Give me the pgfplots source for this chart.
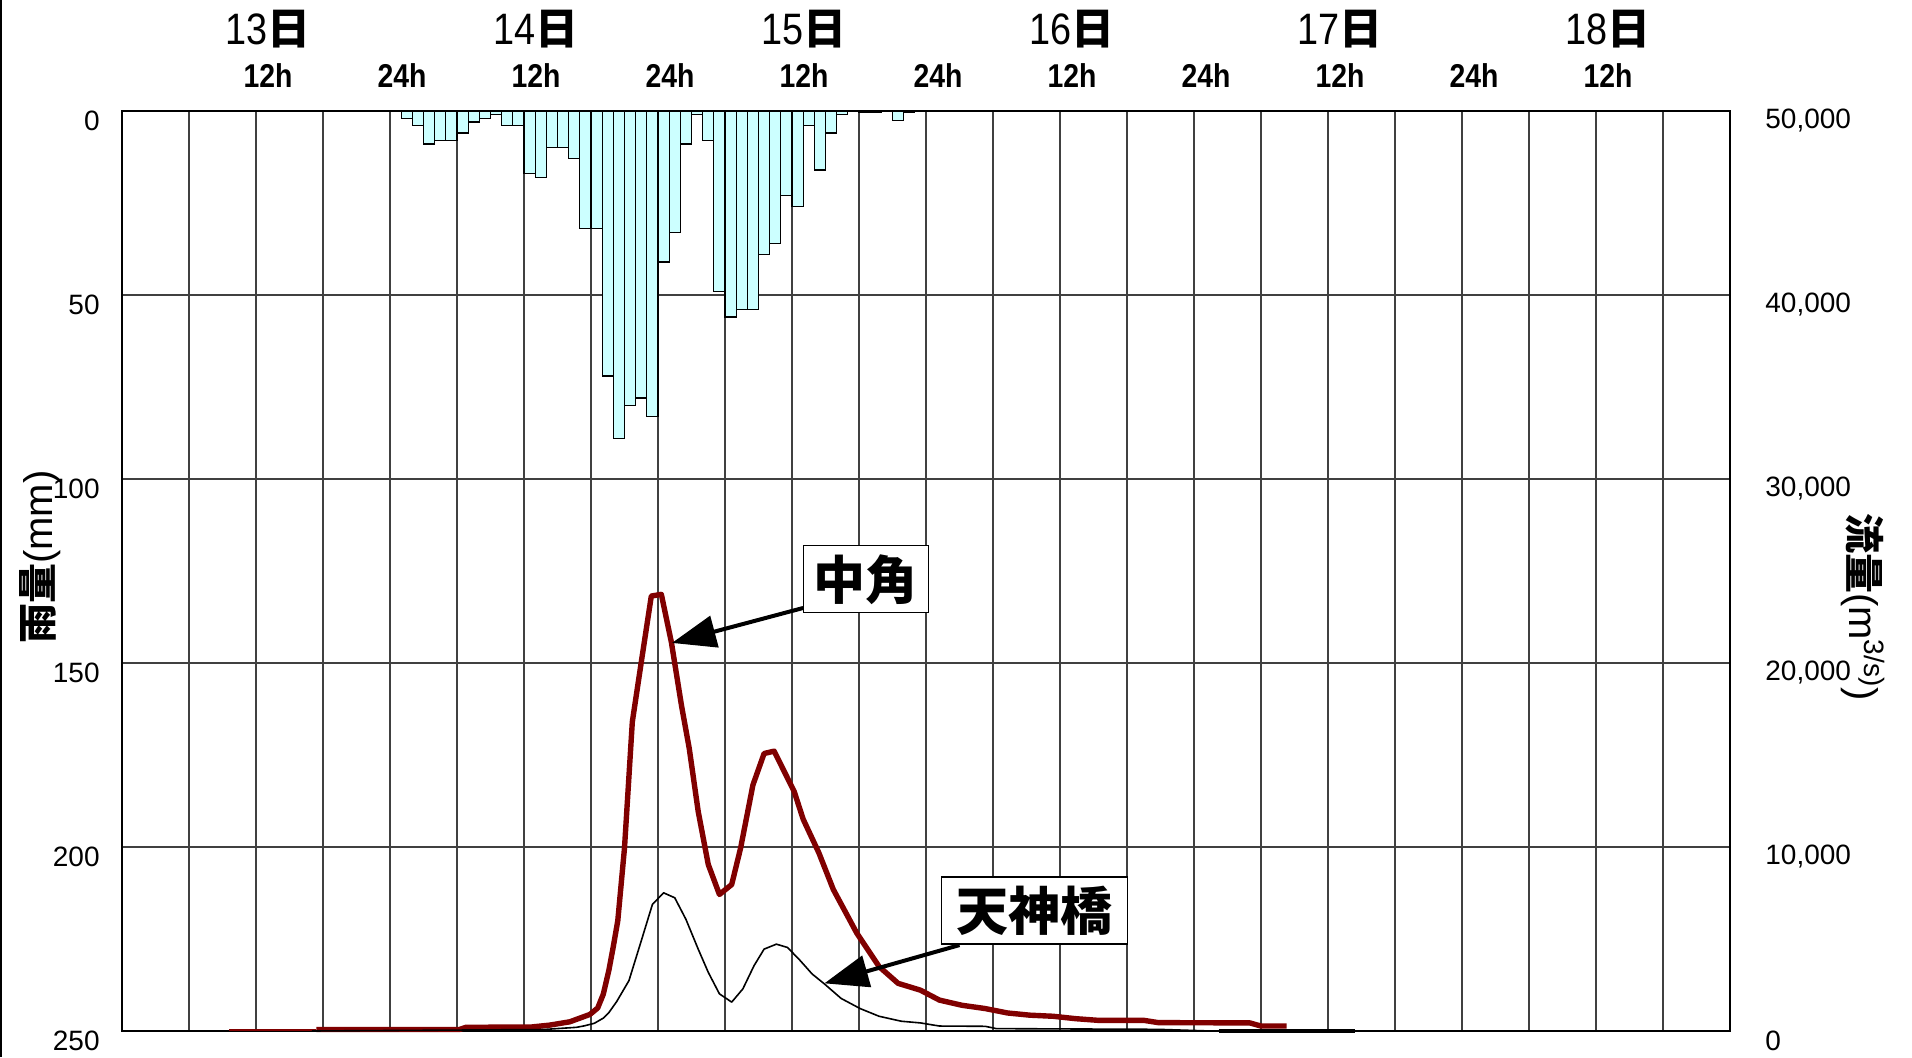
\documentclass[border=0pt]{standalone}
\usepackage{pgfplots}
\pgfplotsset{compat=1.18}
\usetikzlibrary{arrows.meta}
\usepackage{fontspec}
\setmainfont{Liberation Sans}
\newfontfamily\narrow{Liberation Sans}[FakeStretch=0.86]
\newfontfamily\cjk{Noto Sans CJK JP}
\definecolor{rainfill}{HTML}{CCFFFF}
\definecolor{darkred}{HTML}{800000}

\newcommand{\dayl}[1]{{\narrow\fontsize{22}{24}\selectfont #1}{\cjk\bfseries\fontsize{21.5}{24}\selectfont 日}}

\begin{document}
\begin{tikzpicture}
\useasboundingbox (0,0) rectangle (956pt,528.5pt);
\draw[line width=1pt] (0.5pt,0) -- (0.5pt,528.5pt);

% hourly rainfall (mm), hanging from the top
\begin{axis}[
  at={(61pt,13pt)}, anchor=south west,
  scale only axis, width=804pt, height=460pt,
  xmin=0, xmax=144, ymin=0, ymax=250, y dir=reverse,
  xtick={12,24,...,132},
  xticklabels={12h,24h,12h,24h,12h,24h,12h,24h,12h,24h,12h},
  minor xtick={6,18,...,138},
  xticklabel pos=upper,
  ytick={0,50,...,250},
  major tick length=0pt, minor tick length=0pt,
  grid=both,
  major grid style={black!75, line width=0.6pt},
  minor grid style={black!75, line width=0.6pt},
  axis line style={line width=1.2pt},
  tick label style={font=\fontsize{14}{16}\selectfont, inner sep=0pt},
  xticklabel style={font=\narrow\bfseries\fontsize{16.5}{18}\selectfont, anchor=base, yshift=12pt, xshift=6pt},
  yticklabel style={anchor=east, xshift=-11pt, yshift=-5pt},
  /pgf/number format/assume math mode=true,
  ybar, bar width=1, bar shift=0pt,
]
\addplot[draw=black, line width=0.65pt, fill=rainfill] table {
h r
25.5 2
26.5 4
27.5 9
28.5 8
29.5 8
30.5 6
31.5 3
32.5 2
33.5 1
34.5 4
35.5 4
36.5 17
37.5 18
38.5 10
39.5 10
40.5 13
41.5 32
42.5 32
43.5 72
44.5 89
45.5 80
46.5 78
47.5 83
48.5 41
49.5 33
50.5 9
51.5 1
52.5 8
53.5 49
54.5 56
55.5 54
56.5 54
57.5 39
58.5 36
59.5 23
60.5 26
61.5 4
62.5 16
63.5 6
64.5 1
66.5 0.5
67.5 0.5
69.5 2.6
70.5 0.5
};
\end{axis}

% discharge (m3/s)
\begin{axis}[
  at={(61pt,13pt)}, anchor=south west,
  scale only axis, width=804pt, height=460pt,
  xmin=0, xmax=144, ymin=0, ymax=50000,
  axis x line=none, axis y line*=right,
  axis line style={draw=none},
  ytick={0,10000,...,50000}, scaled y ticks=false,
  major tick length=0pt,
  yticklabel style={font=\fontsize{14}{16}\selectfont, inner sep=0pt, anchor=west, xshift=17.5pt, yshift=-5pt},
  /pgf/number format/assume math mode=true,
  /pgf/number format/1000 sep={,},
  clip=false,
]
% 中角
\addplot[darkred, line width=0.8pt] coordinates {(9.6,60) (17.4,60)};
\addplot[darkred, line width=2.7pt, line join=round] table {
t q
17.4 80
30.2 80
30.8 200
36.7 220
38.3 320
40.1 500
41.9 900
42.6 1250
43.1 2000
43.6 3300
44.0 4600
44.4 6000
45.0 9950
45.7 16800
46.5 20040
47.4 23640
48.3 23730
49.2 21120
50.1 17700
50.8 15350
51.6 11930
52.5 9050
53.5 7420
54.6 7960
55.4 9950
56.5 13370
57.5 15080
58.4 15210
60.2 13010
61.0 11510
62.4 9690
63.7 7690
65.8 5320
67.8 3500
69.5 2590
71.5 2220
73.2 1680
75.2 1400
77.3 1220
79.3 980
81.3 860
83.4 800
85.4 670
87.4 580
91.5 580
92.8 455
101.0 440
102.0 270
104.3 270
};
% 天神橋
\addplot[black, line width=0.8pt, line join=round] table {
t q
17.0 0
37.7 80
40.7 200
41.4 280
42.3 420
43.1 700
43.6 1000
44.3 1600
45.4 2740
46.5 4900
47.5 6880
48.5 7510
49.5 7240
50.5 6070
51.6 4450
52.5 3190
53.5 2020
54.6 1570
55.6 2290
56.6 3550
57.5 4450
58.6 4720
59.6 4540
60.7 3850
61.8 3100
62.9 2560
64.4 1770
66.1 1220
67.8 800
69.8 530
71.5 440
73.2 270
77.3 255
78.3 130
92.8 90
97.5 0
128.5 0
};
\addplot[black, line width=2pt] coordinates {(98.2,0) (110.4,0)};

% day labels
\node[anchor=base, xshift=6pt, yshift=33pt] at (axis cs:12,50000) {\dayl{13}};
\node[anchor=base, xshift=6pt, yshift=33pt] at (axis cs:36,50000) {\dayl{14}};
\node[anchor=base, xshift=6pt, yshift=33pt] at (axis cs:60,50000) {\dayl{15}};
\node[anchor=base, xshift=6pt, yshift=33pt] at (axis cs:84,50000) {\dayl{16}};
\node[anchor=base, xshift=6pt, yshift=33pt] at (axis cs:108,50000) {\dayl{17}};
\node[anchor=base, xshift=6pt, yshift=33pt] at (axis cs:132,50000) {\dayl{18}};

% callouts
\draw[line width=2pt, -{Triangle[length=22pt,width=16pt]}] (axis cs:61.0,22990) -- (axis cs:49.25,21090);
\draw[line width=2pt, -{Triangle[length=22pt,width=16pt]}] (axis cs:75.0,4670) -- (axis cs:62.9,2590);
\node[draw=black, line width=0.7pt, fill=white, inner sep=0pt, minimum width=62.5pt, minimum height=33.5pt,
  font=\cjk\bfseries\fontsize{26}{28}\selectfont] at (axis cs:66.6,24550) {中角};
\node[draw=black, line width=0.7pt, fill=white, inner sep=0pt, minimum width=93pt, minimum height=33.5pt,
  font=\cjk\bfseries\fontsize{26}{28}\selectfont] at (axis cs:81.7,6540) {天神橋};
\end{axis}

\node[rotate=90, font=\fontsize{20}{22}\selectfont] at (20pt,250pt) {{\cjk\bfseries 雨量}(mm)};
\node[rotate=-90, font=\fontsize{20}{22}\selectfont] at (931.5pt,225pt) {{\cjk\bfseries 流量}(m\textsuperscript{3/s)})};
\end{tikzpicture}
\end{document}
